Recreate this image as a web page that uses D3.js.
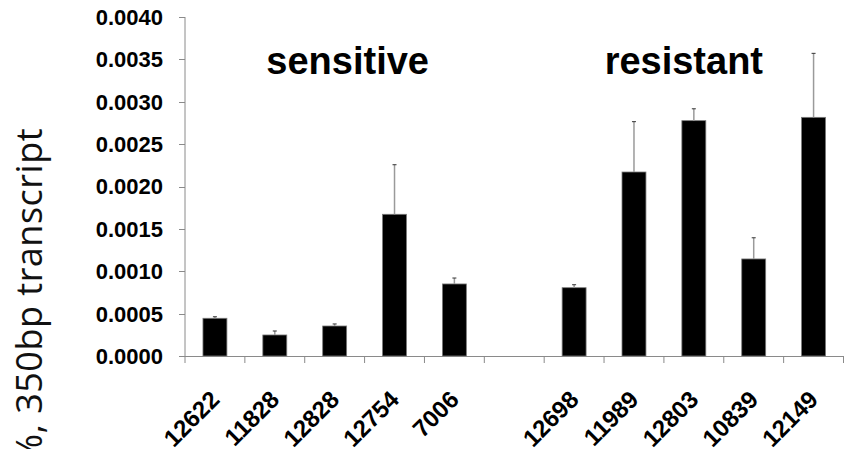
<!DOCTYPE html>
<html>
<head>
<meta charset="utf-8">
<script src="https://cdn.jsdelivr.net/npm/d3@7"></script>
<style>
	body { margin: 0; background: #fff; }
	svg { display: block; }
</style>
</head>
<body>
<div id="chart"></div>
<script>
// strains per group, "" is the empty slot between the groups
const sensitive = ["12622", "11828", "12828", "12754", "7006"];
const resistant = ["12698", "11989", "12803", "10839", "12149"];
const categories = sensitive.concat([""], resistant);

// mean and upper error
const values = [0.000445, 0.000248, 0.000354, 0.001672, 0.00085, null, 0.000806, 0.002171, 0.002777, 0.001145, 0.002816];
const errors = [0.000018, 0.000047, 0.000024, 0.000585, 0.00007, null, 0.000035, 0.000594, 0.00014, 0.00025, 0.000755];

const yTicks = [0, 0.0005, 0.001, 0.0015, 0.002, 0.0025, 0.003, 0.0035, 0.004];
const yTitle = "%, 350bp transcript";

const width = 844, height = 449;
const margin = {top: 17, left: 185, right: 0.5, bottom: 93};

const svg = d3.select("#chart").append("svg")
	.attr("width", width)
	.attr("height", height);

const x = d3.scaleBand()
	.domain(categories)
	.range([margin.left, width - margin.right])
	.paddingInner(0.6)
	.paddingOuter(0.3);

const y = d3.scaleLinear()
	.domain([0, 0.004])
	.range([height - margin.bottom, margin.top]);

const step = x.step();
const axisColor = "#8a8a8a";

// y axis
svg.append("line")
	.attr("x1", margin.left).attr("x2", margin.left)
	.attr("y1", y(0.004)).attr("y2", y(0))
	.style("stroke", axisColor).style("stroke-width", 1);

svg.selectAll(".ytick")
	.data(yTicks)
	.enter().append("line")
	.attr("class", "ytick")
	.attr("x1", margin.left - 6).attr("x2", margin.left)
	.attr("y1", d => Math.round(y(d)) + 0.5).attr("y2", d => Math.round(y(d)) + 0.5)
	.style("stroke", axisColor);

svg.selectAll(".ylabel")
	.data(yTicks)
	.enter().append("text")
	.attr("class", "ylabel")
	.attr("x", 163)
	.attr("y", d => y(d))
	.attr("dy", "0.36em")
	.attr("text-anchor", "end")
	.style("font-family", "Liberation Sans, Arial, sans-serif")
	.style("font-weight", "bold")
	.style("font-size", "22px")
	.text(d => d3.format(".4f")(d));

// x axis with ticks on the category boundaries
svg.append("line")
	.attr("x1", margin.left).attr("x2", width)
	.attr("y1", y(0) + 0.5).attr("y2", y(0) + 0.5)
	.style("stroke", axisColor);

svg.selectAll(".xtick")
	.data(d3.range(categories.length + 1))
	.enter().append("line")
	.attr("class", "xtick")
	.attr("x1", i => margin.left + i * step).attr("x2", i => margin.left + i * step)
	.attr("y1", y(0)).attr("y2", y(0) + 7)
	.style("stroke", axisColor);

svg.selectAll(".xlabel")
	.data(categories.filter(d => d !== ""))
	.enter().append("text")
	.attr("class", "xlabel")
	.attr("transform", d => "translate(" + (x(d) + x.bandwidth() / 2 + 6) + "," + (y(0) + 45) + ") rotate(-45)")
	.attr("text-anchor", "end")
	.style("font-family", "Liberation Sans, Arial, sans-serif")
	.style("font-weight", "bold")
	.style("font-size", "24px")
	.text(d => d);

// bars
const data = categories.map((c, i) => ({cat: c, value: values[i], err: errors[i]}))
	.filter(d => d.value !== null);

svg.selectAll(".bar")
	.data(data)
	.enter().append("rect")
	.attr("class", "bar")
	.attr("x", d => x(d.cat))
	.attr("width", x.bandwidth())
	.attr("y", d => y(d.value))
	.attr("height", d => y(0) - y(d.value))
	.style("fill", "#000")
	.style("stroke", "#7a7a7a")
	.style("stroke-width", 0.8);

// upper error bars
svg.selectAll(".err")
	.data(data)
	.enter().append("line")
	.attr("class", "err")
	.attr("x1", d => x(d.cat) + x.bandwidth() / 2).attr("x2", d => x(d.cat) + x.bandwidth() / 2)
	.attr("y1", d => y(d.value)).attr("y2", d => y(d.value + d.err))
	.style("stroke", "#9a9a9a")
	.style("stroke-width", 1.5);

svg.selectAll(".cap")
	.data(data)
	.enter().append("line")
	.attr("class", "cap")
	.attr("x1", d => x(d.cat) + x.bandwidth() / 2 - 2).attr("x2", d => x(d.cat) + x.bandwidth() / 2 + 2)
	.attr("y1", d => y(d.value + d.err)).attr("y2", d => y(d.value + d.err))
	.style("stroke", "#333")
	.style("stroke-width", 1);

// group titles
const groupLabels = [
	{text: "sensitive", cat: sensitive[2], dx: 13},
	{text: "resistant", cat: resistant[2], dx: -10}
];
svg.selectAll(".group")
	.data(groupLabels)
	.enter().append("text")
	.attr("class", "group")
	.attr("x", d => x(d.cat) + x.bandwidth() / 2 + d.dx)
	.attr("y", 74)
	.attr("text-anchor", "middle")
	.style("font-family", "Liberation Sans, Arial, sans-serif")
	.style("font-weight", "bold")
	.style("font-size", "38px")
	.text(d => d.text);

// y title, runs off the bottom of the picture
svg.append("text")
	.attr("transform", "translate(42,128) rotate(-90)")
	.attr("text-anchor", "end")
	.style("font-family", "Open Sans, sans-serif")
	.style("font-size", "36px")
	.style("letter-spacing", "0.5px")
	.style("fill", "#111")
	.text(yTitle);
</script>
</body>
</html>
